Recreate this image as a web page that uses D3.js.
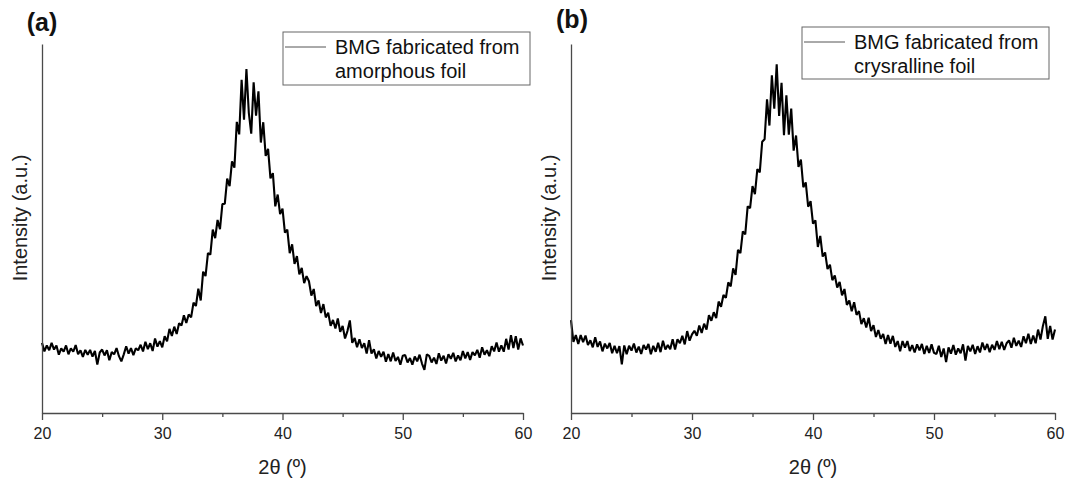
<!DOCTYPE html>
<html lang="en">
<head>
  <meta charset="UTF-8"/>
  <title>XRD patterns of BMG</title>
  <script src="https://d3js.org/d3.v7.min.js"></script>
  <style>
    body { margin: 0; background: #fff; }
    svg text { font-family: "Liberation Sans", Arial, sans-serif; }
  </style>
</head>
<body>
<script>
  var w = 1067;
  var h = 479;

  // scan: 2theta from 20 to 60 deg, step 0.2
  var scanStart = 20;
  var scanEnd = 60;
  var scanStep = 0.2;

  var xTicks = [20, 30, 40, 50, 60];
  var xMinorTicks = [25, 35, 45, 55];

  // intensity (a.u.)
  var intensityA = [
    190,167,183,170,190,172,183,158,175,166,183,159,175,166,184,159,170,152,171,158,171,
    153,168,131,164,172,156,170,143,165,159,176,154,140,159,181,161,176,157,175,170,
    185,167,193,173,189,168,202,180,195,178,
    208,194,228,209,234,214,243,237,265,244,267,259,299,290,337,
    305,383,371,433,429,497,474,523,498,566,567,635,615,682,665,
    789,755,903,795,932,813,757,896,806,872,733,788,697,716,
    636,650,560,592,539,554,489,497,433,457,404,425,376,393,352,371,
    357,318,336,290,305,271,295,259,272,236,252,229,256,220,236,202,222,251,190,203,
    178,200,176,189,161,197,161,173,148,168,152,166,139,160,140,164,141,152,131,155,
    157,137,149,131,153,140,158,134,117,159,155,137,150,133,162,142,155,134,159,147,
    163,140,156,143,168,148,165,144,165,156,
    171,150,178,158,170,154,181,167,191,166,183,166,201,172,211,176,208,172,202,183
  ];

  // intensity (a.u.)
  var intensityB = [
    252,193,211,187,211,192,210,184,197,178,205,179,194,167,188,175,190,162,182,162,181,
    132,183,159,182,169,188,164,180,160,184,172,187,159,182,166,190,165,196,172,184,
    173,200,172,200,189,209,186,222,196,213,
    223,209,237,217,242,226,265,250,273,257,302,288,320,312,354,
    343,392,374,442,433,492,484,560,555,615,593,661,652,735,742,
    850,779,915,825,945,805,895,753,861,754,825,711,752,667,
    687,612,625,559,574,513,522,450,480,424,435,390,402,360,373,340,
    355,319,336,293,305,276,300,266,276,241,257,232,258,222,238,206,225,201,214,187,
    211,188,209,179,195,167,195,177,195,168,184,164,186,170,187,160,182,163,186,163,
    160,182,152,175,138,178,161,184,158,175,162,186,142,182,167,185,160,181,164,191,
    171,187,165,185,171,195,173,193,171,189,
    197,177,204,182,196,179,208,189,215,187,210,189,226,199,236,262,201,236,199,226
  ];

  var legendA = ["BMG fabricated from", "amorphous foil"];
  var legendB = ["BMG fabricated from", "crysralline foil"];

  var angles = d3.range(0, intensityA.length).map(function (i) {
    return +(scanStart + i * scanStep).toFixed(1);
  });

  var panels = [
    { tag: "(a)", tagX: 42, tagY: 31, left: 42, right: 523, values: intensityA,
      legend: legendA, box: { x: 283, y: 32, w: 247, h: 53 } },
    { tag: "(b)", tagX: 572, tagY: 28, left: 571, right: 1055, values: intensityB,
      legend: legendB, box: { x: 802, y: 27, w: 247, h: 52 } }
  ];

  var plotTop = 44;
  var plotBottom = 413;
  var axisColor = "#4a4a4a";

  var svg = d3.select("body")
          .append("svg")
          .attr("width", w)
          .attr("height", h);

  panels.forEach(function (p) {
    var xScale = d3.scaleLinear()
            .domain([scanStart, scanEnd])
            .range([p.left, p.right]);

    var yScale = d3.scaleLinear()
            .domain([0, 1000])
            .range([plotBottom, plotTop]);

    var line = d3.line()
            .x(function (d, i) { return xScale(angles[i]); })
            .y(function (d) { return yScale(d); });

    svg.append("path")
            .datum(p.values)
            .attr("d", line)
            .attr("fill", "none")
            .attr("stroke", "#000")
            .attr("stroke-width", 2.1)
            .attr("stroke-linejoin", "bevel");

    // minor ticks
    var gMinor = svg.append("g")
            .attr("transform", "translate(0," + plotBottom + ")")
            .call(d3.axisBottom(xScale).tickValues(xMinorTicks).tickSize(4)
                    .tickSizeOuter(0).tickFormat(""));
    gMinor.select(".domain").remove();

    var gx = svg.append("g")
            .attr("transform", "translate(0," + plotBottom + ")")
            .call(d3.axisBottom(xScale).tickValues(xTicks).tickSize(7)
                    .tickSizeOuter(0).tickPadding(8));
    gx.selectAll("text").style("font-size", "16px").attr("fill", "#222");

    svg.append("g")
            .attr("transform", "translate(" + p.left + ",0)")
            .call(d3.axisLeft(yScale).tickValues([]).tickSizeOuter(0));

    svg.selectAll("g .domain, g .tick line")
            .attr("stroke", axisColor)
            .attr("stroke-width", 1.3);

    // x axis label
    svg.append("text")
            .attr("text-anchor", "middle")
            .attr("x", (p.left + p.right) / 2)
            .attr("y", 474)
            .style("font-size", "20px")
            .attr("fill", "#222")
            .text("2θ (º)");

    // y axis label
    svg.append("text")
            .attr("text-anchor", "middle")
            .attr("transform", "rotate(-90)")
            .attr("x", -218)
            .attr("y", p.left - 15)
            .style("font-size", "20px")
            .attr("fill", "#222")
            .text("Intensity (a.u.)");

    // panel tag
    svg.append("text")
            .attr("text-anchor", "middle")
            .attr("x", p.tagX)
            .attr("y", p.tagY)
            .style("font-size", "25px")
            .style("font-weight", "bold")
            .attr("fill", "#111")
            .text(p.tag);

    // legend
    svg.append("rect")
            .attr("x", p.box.x)
            .attr("y", p.box.y)
            .attr("width", p.box.w)
            .attr("height", p.box.h)
            .attr("fill", "#fff")
            .attr("stroke", "#666")
            .attr("stroke-width", 1);

    svg.append("line")
            .attr("x1", p.box.x + 2)
            .attr("x2", p.box.x + 43)
            .attr("y1", p.box.y + 15)
            .attr("y2", p.box.y + 15)
            .attr("stroke", "#555")
            .attr("stroke-width", 1);

    svg.selectAll(null)
            .data(p.legend)
            .enter()
            .append("text")
            .attr("x", p.box.x + 52)
            .attr("y", function (d, i) { return p.box.y + 22 + i * 24; })
            .style("font-size", "20px")
            .attr("fill", "#111")
            .text(function (d) { return d; });
  });
</script>
</body>
</html>
